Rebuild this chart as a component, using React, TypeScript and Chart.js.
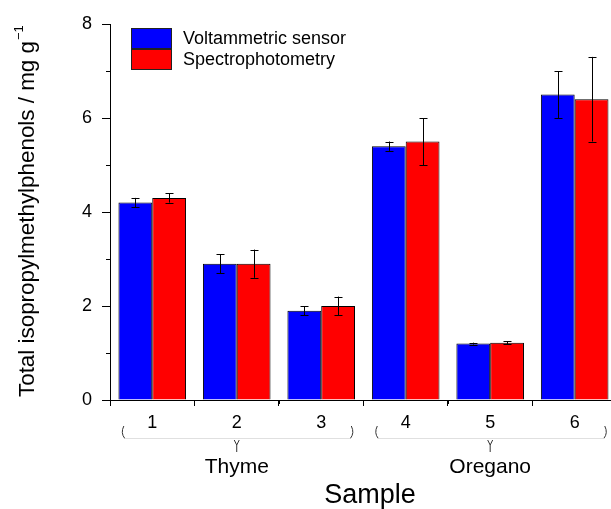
import React, { useEffect, useRef } from "react";
import { Chart, registerables } from "chart.js";

Chart.register(...registerables);

// ---- data ----
const categories = ["1", "2", "3", "4", "5", "6"];
const seriesNames = ["Voltammetric sensor", "Spectrophotometry"];
const voltammetric = [4.2, 2.9, 1.9, 5.4, 1.2, 6.5];
const voltammetricErr = [0.1, 0.2, 0.1, 0.1, 0.02, 0.5];
const spectro = [4.3, 2.9, 2.0, 5.5, 1.22, 6.4];
const spectroErr = [0.1, 0.3, 0.2, 0.5, 0.03, 0.9];
const groupNames = ["Thyme", "Oregano"];
const groupFirst = [1, 4];
const groupLast = [3, 6];
const yMinorTicks = [1, 3, 5, 7];
const xAxisTitle = "Sample";
const yAxisTitle = "Total isopropylmethylphenols / mg g";
const yAxisTitleSup = "\u22121";

const seriesColors = ["#0000FF", "#FF0000"];
const FONT = "'Liberation Sans', Arial, sans-serif";

const extrasPlugin = {
  id: "extras",
  afterDatasetsDraw(chart: any) {
    const ctx = chart.ctx;
    const ys = chart.scales.y;
    const errs = [voltammetricErr, spectroErr];
    const vals = [voltammetric, spectro];
    ctx.save();
    ctx.strokeStyle = "#000";
    ctx.lineWidth = 1;
    for (let d = 0; d < 2; d++) {
      const meta = chart.getDatasetMeta(d);
      meta.data.forEach((bar: any, i: number) => {
        const x = Math.round(bar.x) + 0.5;
        const yt = ys.getPixelForValue(vals[d][i] + errs[d][i]);
        const yb = ys.getPixelForValue(vals[d][i] - errs[d][i]);
        ctx.beginPath();
        ctx.moveTo(x, yt);
        ctx.lineTo(x, yb);
        ctx.moveTo(x - 4, Math.round(yt) + 0.5);
        ctx.lineTo(x + 4, Math.round(yt) + 0.5);
        ctx.moveTo(x - 4, Math.round(yb) + 0.5);
        ctx.lineTo(x + 4, Math.round(yb) + 0.5);
        ctx.stroke();
      });
    }
    ctx.restore();
  },
  afterDraw(chart: any) {
    const ctx = chart.ctx;
    const xs = chart.scales.x;
    const ys = chart.scales.y;
    const area = chart.chartArea;
    ctx.save();
    ctx.strokeStyle = "#000";
    ctx.lineWidth = 1;
    // minor y ticks
    yMinorTicks.forEach((v) => {
      const y = Math.round(ys.getPixelForValue(v)) + 0.5;
      ctx.beginPath();
      ctx.moveTo(area.left - 4, y);
      ctx.lineTo(area.left, y);
      ctx.stroke();
    });
    // minor x ticks (category boundaries)
    for (let i = 0; i <= categories.length; i++) {
      const x = Math.round(xs.getPixelForValue(i + 0.5)) + 0.5;
      ctx.beginPath();
      ctx.moveTo(x, area.bottom);
      ctx.lineTo(x, area.bottom + 4);
      ctx.stroke();
    }
    // braces + group labels
    for (let g = 0; g < groupNames.length; g++) {
      const x0 = xs.getPixelForValue(groupFirst[g] - 0.36);
      const x1 = xs.getPixelForValue(groupLast[g] + 0.38);
      const cx = xs.getPixelForValue((groupFirst[g] + groupLast[g]) / 2);
      const yTop = 426;
      const yLine = 438.5;
      ctx.strokeStyle = "#333";
      ctx.beginPath();
      ctx.moveTo(x0 + 2, yTop);
      ctx.quadraticCurveTo(x0 - 1.5, yTop + 7, x0 + 3, yLine);
      ctx.moveTo(x1 - 2, yTop);
      ctx.quadraticCurveTo(x1 + 1.5, yTop + 7, x1 - 3, yLine);
      ctx.stroke();
      ctx.strokeStyle = "#e0e0e0";
      ctx.beginPath();
      ctx.moveTo(x0 + 3, yLine);
      ctx.lineTo(x1 - 3, yLine);
      ctx.stroke();
      ctx.strokeStyle = "#333";
      ctx.beginPath();
      ctx.moveTo(cx - 2.5, 440);
      ctx.lineTo(cx, 445);
      ctx.lineTo(cx + 2.5, 440);
      ctx.moveTo(cx, 445);
      ctx.lineTo(cx, 452);
      ctx.stroke();
      ctx.fillStyle = "#000";
      ctx.font = `21px ${FONT}`;
      ctx.textAlign = "center";
      ctx.textBaseline = "alphabetic";
      ctx.fillText(groupNames[g], cx, 473);
    }
    // x title
    ctx.fillStyle = "#000";
    ctx.font = `27px ${FONT}`;
    ctx.textAlign = "center";
    ctx.textBaseline = "alphabetic";
    ctx.fillText(xAxisTitle, 370, 503);
    // y title
    ctx.save();
    ctx.translate(34, 397);
    ctx.rotate(-Math.PI / 2);
    ctx.font = `22.4px ${FONT}`;
    ctx.textAlign = "left";
    ctx.fillText(yAxisTitle, 0, 0);
    const w = ctx.measureText(yAxisTitle).width;
    ctx.font = `13px ${FONT}`;
    ctx.fillText(yAxisTitleSup, w + 1, -11);
    ctx.restore();
    // legend
    const lx = 131;
    const ly = [28, 49];
    for (let d = 0; d < 2; d++) {
      ctx.fillStyle = seriesColors[d];
      ctx.fillRect(lx, ly[d], 41, 21);
      ctx.strokeStyle = "#222";
      ctx.strokeRect(lx + 0.5, ly[d] + 0.5, 40, 20);
      ctx.fillStyle = "#000";
      ctx.font = `18px ${FONT}`;
      ctx.textAlign = "left";
      ctx.textBaseline = "middle";
      ctx.fillText(seriesNames[d], 183, ly[d] + 11);
    }
    ctx.restore();
  },
};

export default function App() {
  const ref = useRef<HTMLCanvasElement | null>(null);
  useEffect(() => {
    if (!ref.current) return;
    const chart = new Chart(ref.current, {
      type: "bar",
      data: {
        datasets: [
          {
            label: seriesNames[0],
            data: voltammetric.map((v, i) => ({ x: i + 1, y: v })),
            backgroundColor: seriesColors[0],
            borderColor: "#000",
            borderWidth: 1,
            borderSkipped: "bottom",
          },
          {
            label: seriesNames[1],
            data: spectro.map((v, i) => ({ x: i + 1, y: v })),
            backgroundColor: seriesColors[1],
            borderColor: "#000",
            borderWidth: 1,
            borderSkipped: "bottom",
          },
        ],
      },
      options: {
        responsive: false,
        devicePixelRatio: 1,
        animation: false,
        events: [],
        layout: { padding: { top: 24, left: 0, right: 0, bottom: 0 } },
        datasets: { bar: { categoryPercentage: 0.8, barPercentage: 1.0 } },
        plugins: { legend: { display: false }, tooltip: { enabled: false } },
        scales: {
          x: {
            type: "linear",
            min: 0.5,
            max: 6.43,
            offset: false,
            afterBuildTicks: (s: any) => {
              s.ticks = categories.map((_, i) => ({ value: i + 1 }));
            },
            afterFit: (s: any) => {
              s.height = 109;
            },
            grid: {
              display: true,
              drawOnChartArea: false,
              drawTicks: true,
              tickLength: 6,
              color: "#000",
            },
            border: { display: true, color: "#000", width: 1 },
            ticks: {
              color: "#000",
              font: { family: FONT, size: 18 },
              padding: 6,
              maxRotation: 0,
              autoSkip: false,
              callback: (v: any) => categories[Math.round(v) - 1] ?? "",
            },
          },
          y: {
            min: 0,
            max: 8,
            afterFit: (s: any) => {
              s.width = 110;
            },
            grid: {
              display: true,
              drawOnChartArea: false,
              drawTicks: true,
              tickLength: 8,
              color: "#000",
            },
            border: { display: true, color: "#000", width: 1 },
            ticks: {
              stepSize: 2,
              color: "#000",
              font: { family: FONT, size: 18 },
              padding: 10,
            },
          },
        },
      },
      plugins: [extrasPlugin],
    } as any);
    return () => chart.destroy();
  }, []);
  return (
    <div style={{ position: "absolute", left: 0, top: 0, width: 611, height: 509, background: "#fff" }}>
      <canvas ref={ref} width={611} height={509} style={{ width: 611, height: 509, display: "block" }} />
    </div>
  );
}
